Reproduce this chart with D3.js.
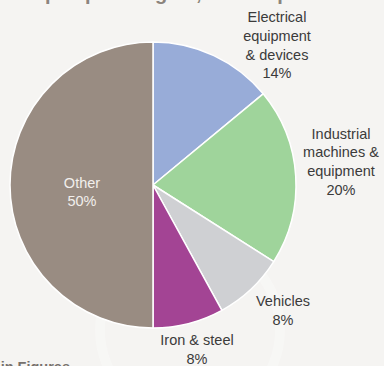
<!DOCTYPE html>
<html>
<head>
<meta charset="utf-8">
<script src="https://cdn.jsdelivr.net/npm/d3@7"></script>
<style>
  html, body { margin: 0; padding: 0; background: #f5f4f2; }
  svg { display: block; }
</style>
</head>
<body>
<svg id="chart" width="384" height="366"></svg>
<script>
// Export structure by product group, % of total
const categories = ["Electrical equipment & devices", "Industrial machines & equipment", "Vehicles", "Iron & steel", "Other"];
const shares = [14, 20, 8, 8, 50];
const labelLines = [
  ["Electrical", "equipment", "& devices", "14%"],
  ["Industrial", "machines &", "equipment", "20%"],
  ["Vehicles", "8%"],
  ["Iron & steel", "8%"],
  ["Other", "50%"]
];
const colors = ["#98acd8", "#9fd49b", "#cfd0d3", "#a34494", "#998c82"];

const svg = d3.select("#chart");
const cx = 153, cy = 185, r = 143;

// faint decorative ring in the background
svg.append("circle")
  .attr("cx", 190).attr("cy", 330).attr("r", 90)
  .attr("fill", "none").attr("stroke", "#ffffff").attr("stroke-width", 10).attr("opacity", 0.25);

// clipped heading and source line
svg.append("text")
  .attr("x", 22).attr("y", 0)
  .attr("font-family", "Liberation Sans, Arial, sans-serif")
  .attr("font-weight", "bold").attr("font-size", 20)
  .attr("fill", "#8c847d")
  .text("Top export targets, % of exports");

svg.append("text")
  .attr("x", 70).attr("y", 371.5).attr("text-anchor", "end")
  .attr("font-family", "Liberation Sans, Arial, sans-serif")
  .attr("font-weight", "bold").attr("font-size", 14.5)
  .attr("fill", "#77716c")
  .text("Source: Japan in Figures");

const pie = d3.pie().sort(null).value(d => d);
const arcs = pie(shares);
const arc = d3.arc().innerRadius(0).outerRadius(r);

const g = svg.append("g").attr("transform", `translate(${cx},${cy})`);
g.selectAll("path")
  .data(arcs)
  .join("path")
  .attr("d", arc)
  .attr("fill", (d, i) => colors[i])
  .attr("stroke", "#ffffff")
  .attr("stroke-width", 1.5)
  .attr("stroke-linejoin", "round");

// label anchor points (centre x, first baseline)
const labelPos = [
  [277, 22], [341, 138.5], [283, 306], [197, 345], [82, 187.5]
];
const lineH = 18.8;
labelLines.forEach((lines, i) => {
  const t = svg.append("text")
    .attr("text-anchor", "middle")
    .attr("font-family", "Liberation Sans, Arial, sans-serif")
    .attr("font-size", 14.5)
    .attr("fill", i === 4 ? "#f2efec" : "#3b3b3b");
  lines.forEach((ln, j) => {
    t.append("tspan")
      .attr("x", labelPos[i][0])
      .attr("y", labelPos[i][1] + j * lineH)
      .text(ln);
  });
});
</script>
</body>
</html>
